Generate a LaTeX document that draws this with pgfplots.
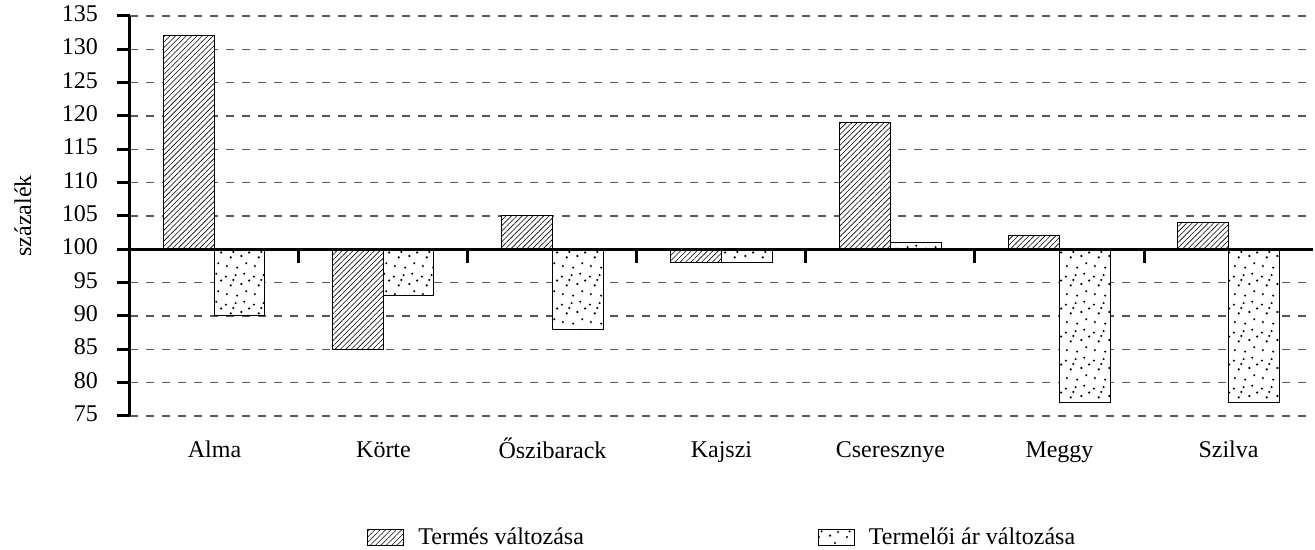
\documentclass[border=0pt]{standalone}
\usepackage{fontspec}
\setmainfont{Liberation Serif}
\usepackage{pgfplots}
\usepackage{pgfplotstable}
\pgfplotsset{compat=1.18}
\usetikzlibrary{patterns,patterns.meta}

% irregular dot fill for the price series
\pgfdeclarepatternformonly{rdots}{\pgfqpoint{0pt}{0pt}}{\pgfqpoint{14pt}{14pt}}{\pgfqpoint{14pt}{14pt}}{%
  \pgfpathcircle{\pgfqpoint{1.5pt}{2.0pt}}{0.6pt}
  \pgfpathcircle{\pgfqpoint{6.8pt}{1.2pt}}{0.6pt}
  \pgfpathcircle{\pgfqpoint{11.5pt}{3.5pt}}{0.6pt}
  \pgfpathcircle{\pgfqpoint{3.5pt}{6.5pt}}{0.6pt}
  \pgfpathcircle{\pgfqpoint{9.0pt}{7.2pt}}{0.6pt}
  \pgfpathcircle{\pgfqpoint{13.0pt}{9.0pt}}{0.6pt}
  \pgfpathcircle{\pgfqpoint{1.0pt}{11.0pt}}{0.6pt}
  \pgfpathcircle{\pgfqpoint{6.0pt}{11.8pt}}{0.6pt}
  \pgfpathcircle{\pgfqpoint{10.5pt}{12.5pt}}{0.6pt}
  \pgfpathcircle{\pgfqpoint{4.8pt}{9.3pt}}{0.6pt}
  \pgfusepath{fill}}

\pgfplotstableread{
idx termes ar
0   132    90
1   85     93
2   105    88
3   98     98
4   119    101
5   102    77
6   104    77
}\adat

\begin{document}
\begin{tikzpicture}
\useasboundingbox (-65pt,-67pt) rectangle (592.5pt,208pt);
\begin{axis}[
  scale only axis, width=591.5pt, height=200pt,
  at={(0pt,0pt)}, anchor=south west,
  font=\fontsize{12}{14}\selectfont,
  ybar=0pt, bar width=25.25pt,
  xmin=-0.5, xmax=6.5, ymin=-25, ymax=35,
  axis lines*=left,
  x axis line style={draw=none},
  y axis line style={line width=1.5pt},
  xtick={0,...,6},
  xticklabels={Alma,Körte,Őszibarack,Kajszi,Cseresznye,Meggy,Szilva},
  typeset ticklabels with strut,
  xtick style={draw=none},
  ytick={-25,-20,...,35},
  yticklabels={75,80,85,90,95,100,105,110,115,120,125,130,135},
  ytick style={line width=1.5pt, black},
  tick align=outside, major tick length=6.5pt,
  ymajorgrids,
  grid style={dash pattern=on 4pt off 4pt, line width=0.8pt, black!65},
  y filter/.expression={y-100},
  ylabel={százalék},
  ylabel style={at={(axis description cs:-0.0905,0.5)}, anchor=center},
  yticklabel style={xshift=-6pt},
  xticklabel style={yshift=-1pt},
  clip=false,
  legend columns=2,
  legend style={draw=none, at={(0.2003,-0.303)}, anchor=west, inner sep=0pt,
    font=\fontsize{12}{14}\selectfont,
    /tikz/every odd column/.append style={column sep=5pt},
    /tikz/every even column/.append style={column sep=115pt}},
  legend image code/.code={\draw[#1] (0pt,-4pt) rectangle (18pt,4pt);},
]
\addplot[draw=black, line width=0.5pt, fill=white,
  postaction={pattern={Lines[angle=45,distance=1.9pt,line width=0.3pt]}}]
  table[x=idx,y=termes]{\adat};
\addplot[draw=black, line width=0.5pt, fill=white,
  postaction={pattern=rdots}]
  table[x=idx,y=ar]{\adat};
\legend{Termés változása, Termelői ár változása}
\draw[line width=1.2pt] (axis cs:-0.5,0) -- (axis cs:6.5,0);
\pgfplotsinvokeforeach{0.5,1.5,2.5,3.5,4.5,5.5}{
  \draw[line width=1.5pt] (axis cs:#1,0) -- ++(0pt,-7pt);
}
\end{axis}
\end{tikzpicture}
\end{document}
